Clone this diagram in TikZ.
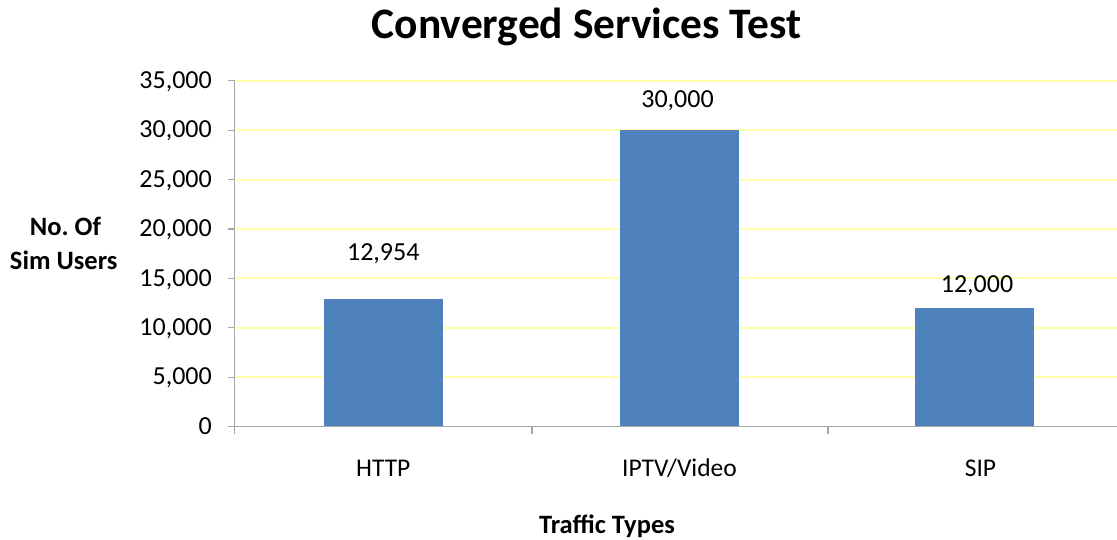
\documentclass[tikz,border=0pt]{standalone}
\usepackage{fontspec}
\setmainfont{Carlito}
\definecolor{barblue}{HTML}{4F81BD}
\definecolor{gridyel}{HTML}{FFFFB0}
\definecolor{axisgray}{HTML}{A6A6A6}
\begin{document}
\begin{tikzpicture}[x=1pt,y=-1pt,
  ticklab/.style={anchor=base east,font=\fontsize{26}{30}\selectfont,inner sep=0pt},
  catlab/.style={anchor=base,font=\fontsize{25.5}{30}\selectfont,inner sep=0pt},
  datalab/.style={anchor=base,font=\fontsize{26}{30}\selectfont,inner sep=0pt},
  axtitle/.style={anchor=base,font=\bfseries\fontsize{26.5}{30}\selectfont,inner sep=0pt},
  barstyle/.style={fill=barblue,draw=none},
  gridline/.style={draw=gridyel,line width=2pt},
  axisline/.style={draw=axisgray,line width=1.2pt}]
\useasboundingbox (0,0) rectangle (1117,539);
% gridlines
\foreach \i in {1,...,7}{
  \draw[gridline] (236,{426.5-49.4*\i}) -- (1117,{426.5-49.4*\i});
}
% bars
\fill[barstyle] (324,{426.5-49.4*2.5908}) rectangle (443,426.5);
\fill[barstyle] (620,{426.5-49.4*6}) rectangle (739,426.5);
\fill[barstyle] (915,{426.5-49.4*2.4}) rectangle (1034,426.5);
% axes
\draw[axisline] (234.5,80.7) -- (234.5,434);
\draw[axisline] (228,426.5) -- (1117,426.5);
\foreach \i/\lab in {0/0,1/{5,000},2/{10,000},3/{15,000},4/{20,000},5/{25,000},6/{30,000},7/{35,000}}{
  \draw[axisline] (228,{426.5-49.4*\i}) -- (234.5,{426.5-49.4*\i});
  \node[ticklab] (t\i) at (212,{434.3-49.4*\i}) {\lab};
}
\draw[axisline] (532,426.5) -- (532,434);
\draw[axisline] (828,426.5) -- (828,434);
% category labels
\node[catlab] (c1) at (383.3,476.7) {HTTP};
\node[catlab] (c2) at (679.5,476.7) {IPTV/Video};
\node[catlab] (c3) at (980.5,476.7) {SIP};
% data labels
\node[datalab] (d1) at (383.3,260.7) {12,954};
\node[datalab] (d2) at (677.5,107.3) {30,000};
\node[datalab] (d3) at (977,292) {12,000};
% titles
\node[anchor=base,font=\bfseries\fontsize{43.5}{48}\selectfont,inner sep=0pt] (title) at (586.7,38.3) {Converged Services Test};
\node[axtitle] (xt) at (607,533) {Traffic Types};
\node[axtitle] (yt1) at (65.5,235) {No.\ Of};
\node[axtitle] (yt2) at (63.7,269) {Sim Users};
\end{tikzpicture}
\end{document}
